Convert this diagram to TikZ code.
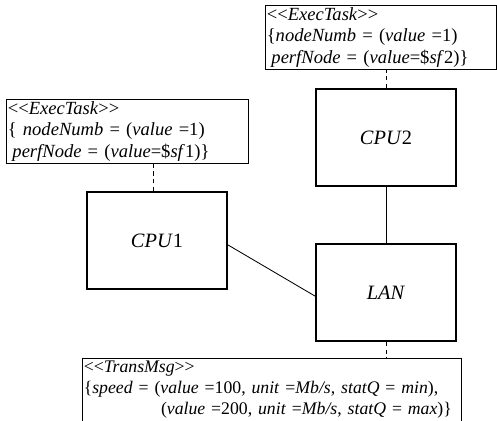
\documentclass[tikz,border=0pt]{standalone}
\usepackage{fontspec}
\setmainfont{Liberation Serif}
\usetikzlibrary{positioning}

\begin{document}
\begin{tikzpicture}[x=0.025cm,y=-0.025cm,
  res/.style={draw,line width=1.3pt,minimum width=3.5cm,minimum height=2.425cm,font=\fontsize{14.5}{16}\selectfont},
  note/.style={draw,line width=0.6pt,anchor=north west,align=left,text width=#1,
    inner xsep=1pt,inner ysep=1.8pt,font=\fontsize{13.2}{15}\selectfont},
  link/.style={line width=0.6pt},
  tag/.style={link,dash pattern=on 3pt off 2.5pt}]
  \useasboundingbox (0,0) rectangle (497,420);
  \def\st#1{<{}<\textit{#1}>{}>}
  % resources
  \node[res] (cpu1) at (157,240.5) {\textit{CPU}1};
  \node[res] (cpu2) at (386,137.5) {\textit{CPU}2};
  \node[res] (lan)  at (386,292.5) {\textit{LAN}};
  % annotations
  \node[note=5.7cm] (exec2) at (265,5)
   {\st{ExecTask}\\
    \{\textit{nodeNumb} = (\textit{value} =1)\\
    \hspace*{0.25em}\textit{perfNode} = (\textit{value}=\$\textit{sf}2)\}};
  \node[note=5.98cm] (exec1) at (6,99)
   {\st{ExecTask}\\
    \{ \textit{nodeNumb} = (\textit{value} =1)\\
    \hspace*{0.25em}\textit{perfNode} = (\textit{value}=\$\textit{sf}1)\}};
  \node[note=9.4cm,font=\fontsize{12.6}{15}\selectfont] (msg) at (82,358)
   {\st{TransMsg}\\
    \{\textit{speed} = (\textit{value} =100, \textit{unit} =\textit{Mb/s}, \textit{statQ} = \textit{min}),\\
    \hspace*{1.93cm}(\textit{value} =200, \textit{unit} =\textit{Mb/s}, \textit{statQ} = \textit{max})\}};
  % links
  \draw[link] (cpu2) -- (lan);
  \draw[link] ([yshift=-0.11cm]cpu1.east) -- ([yshift=-0.09cm]lan.west);
  \draw[tag] (cpu2.north) -- (cpu2.north |- exec2.south);
  \draw[tag] ([xshift=-0.1cm]cpu1.north) -- ([xshift=-0.1cm]cpu1.north |- exec1.south);
  \draw[tag] (lan.south) -- (lan.south |- msg.north);
\end{tikzpicture}
\end{document}
